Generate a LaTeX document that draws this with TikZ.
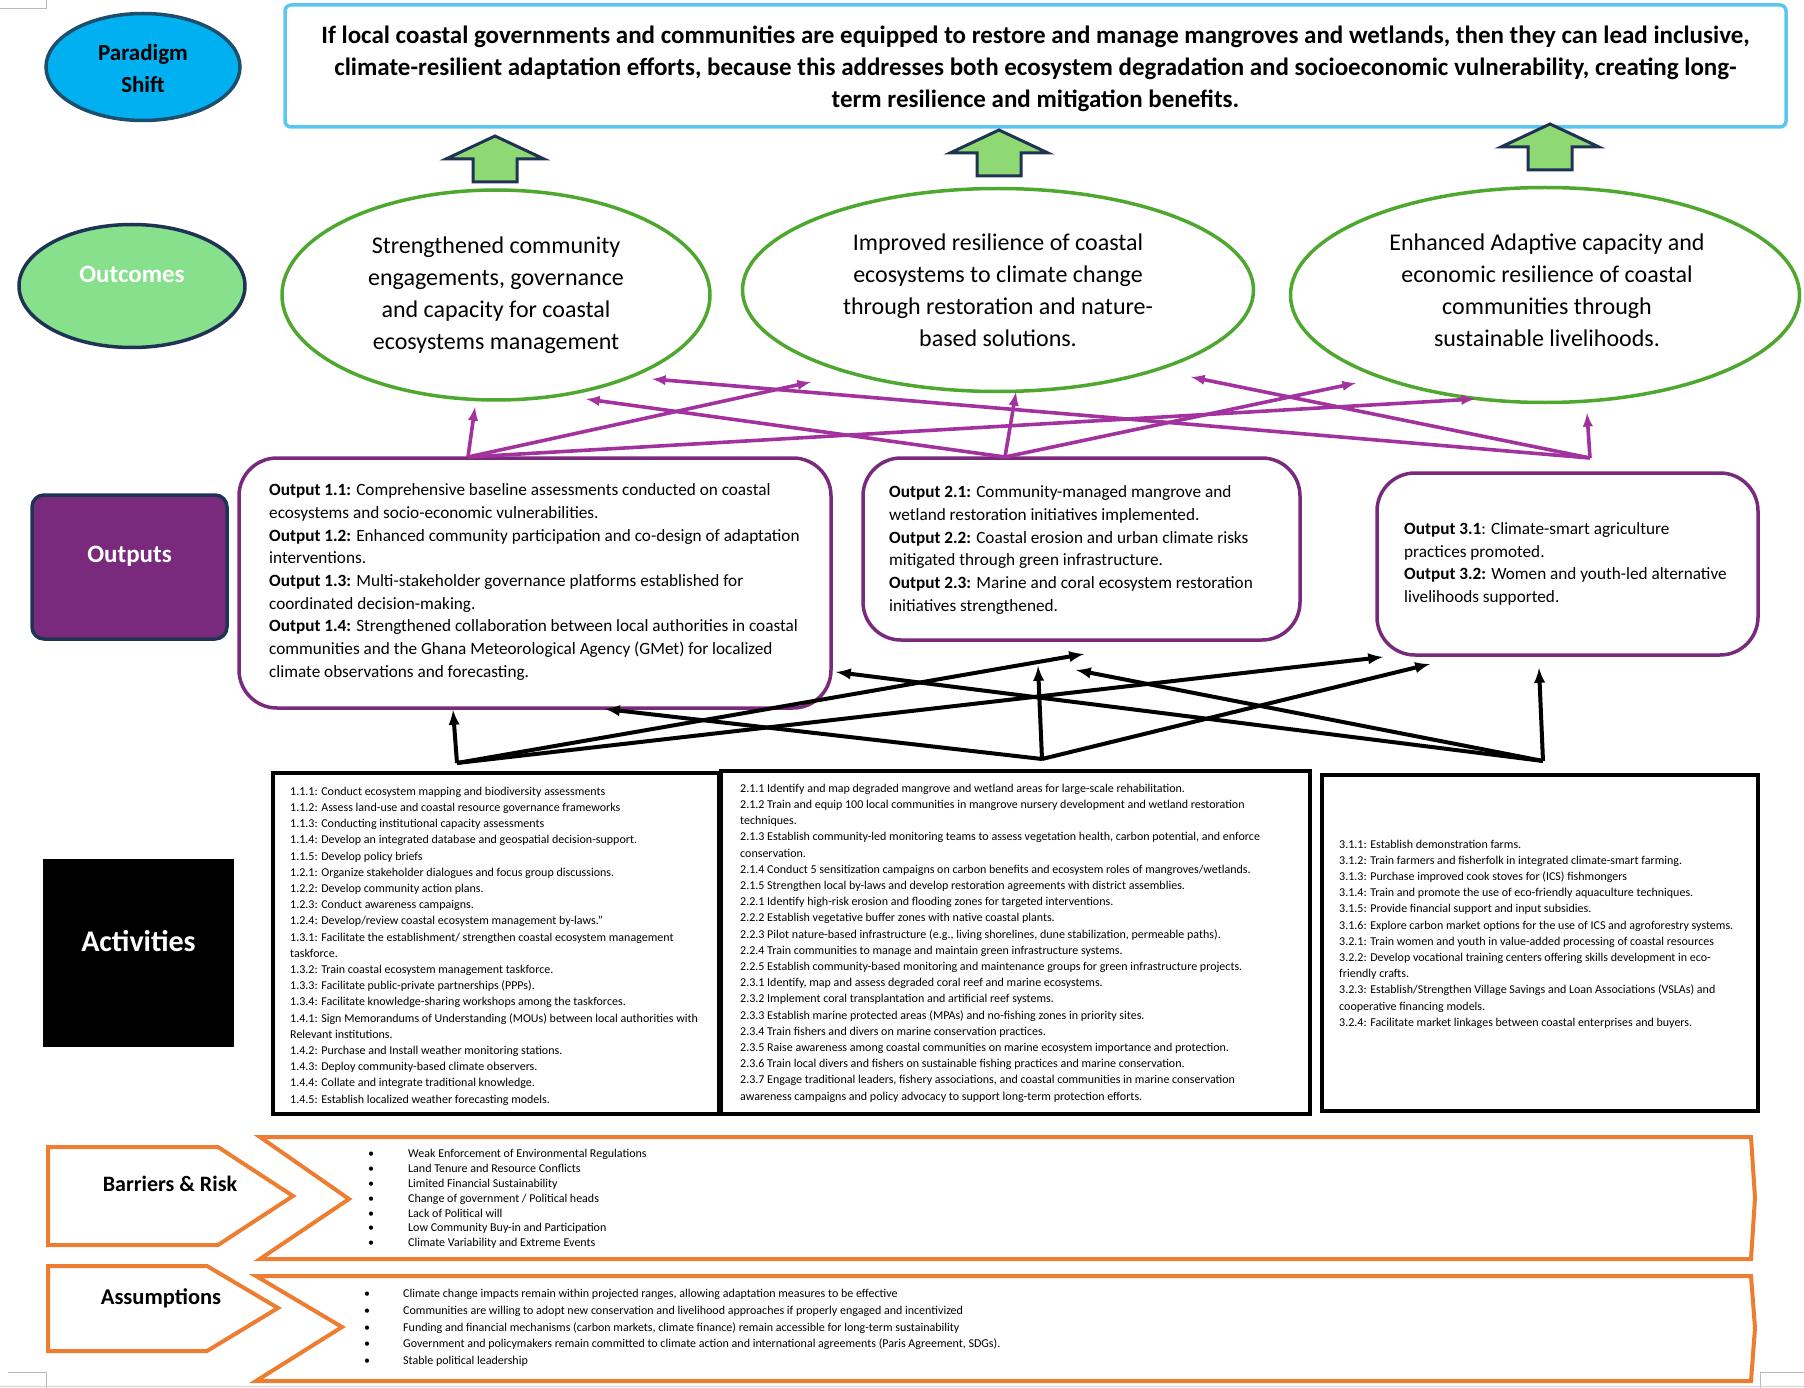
\documentclass[tikz,border=0pt]{standalone}
\usepackage{fontspec}
\setmainfont{Carlito}
\usetikzlibrary{shapes.geometric}

\definecolor{skyfill}{HTML}{00B0F0}
\definecolor{tealline}{HTML}{1D4E6B}
\definecolor{navyline}{HTML}{1F3354}
\definecolor{skyline}{HTML}{5CC6F2}
\definecolor{mint}{HTML}{87E08C}
\definecolor{arrowgreen}{HTML}{8ED973}
\definecolor{leaf}{HTML}{4EA72E}
\definecolor{plum}{HTML}{7A2A7C}
\definecolor{orchid}{HTML}{A2339E}
\definecolor{rust}{HTML}{ED7D31}

\newcommand{\fs}[2]{\fontsize{#1}{#2}\selectfont}
\newcommand{\riskdot}[1]{\makebox[#1][l]{\textbullet}}

\begin{document}
\begin{tikzpicture}[x=1pt,y=-1pt,>=latex,
  outcome/.style={ellipse, draw=leaf, line width=3.5pt, fill=white, inner sep=0pt, align=center, font=\fs{24}{32}},
  outbox/.style={draw=plum, line width=3.5pt, rounded corners=38pt, inner sep=0pt},
  outtext/.style={align=left, anchor=west, inner sep=0pt, font=\fs{17.2}{22.7}},
  actbox/.style={draw=black, line width=4pt, inner sep=0pt},
  acttext/.style={align=left, anchor=west, inner sep=0pt, font=\fs{12}{16.2}},
  purplink/.style={->, orchid, line width=3.6pt},
  blacklink/.style={->, black, line width=4pt},
  chevron/.style={draw=rust, line width=4pt, line join=miter, fill=white}
]
\useasboundingbox (0,0) rectangle (1804,1388);

\draw[gray!55, line width=1pt] (0,9) -- (46,9) -- (46,0);
\draw[gray!55, line width=1pt] (8,1372) -- (46,1372) -- (46,1388);
\draw[gray!55, line width=1pt] (1804,1372) -- (1760,1372) -- (1760,1388);
\draw[gray!35, line width=1pt] (0,1386) -- (1804,1386);

\node[ellipse, draw=tealline, fill=skyfill, line width=3.5pt, minimum width=194pt, minimum height=107pt] (shiftlbl) at (143,67) {};
\node[align=center, inner sep=0pt, font=\bfseries\fs{23}{32}] (shifttxt) at (143,69) {Paradigm\\Shift};
\node[draw=skyline, line width=3.5pt, rounded corners=6pt, minimum width=1501pt, minimum height=122pt] (theory) at (1035.5,66) {};
\node[align=center, inner sep=0pt, font=\bfseries\fs{25}{32}] (theorytxt) at (1035.5,69)
  {If local coastal governments and communities are equipped to restore and manage mangroves and wetlands, then they can lead inclusive,\\
   climate-resilient adaptation efforts, because this addresses both ecosystem degradation and socioeconomic vulnerability, creating long-\\
   term resilience and mitigation benefits.};

\foreach \cx/\ty in {495/136, 999/130, 1550/124}
  \draw[draw=navyline, fill=arrowgreen, line width=3pt, line join=miter]
    (\cx,\ty) -- ++(49,23) -- ++(-27,0) -- ++(0,23) -- ++(-44,0) -- ++(0,-23) -- ++(-27,0) -- cycle;

\node[ellipse, draw=navyline, fill=mint, line width=3.5pt, minimum width=226pt, minimum height=123pt,
  inner sep=0pt, text=white, font=\bfseries\fs{25}{30}] (outclbl) at (132,286) {};
\node[text=white, inner sep=0pt, font=\bfseries\fs{25}{30}] (outcltxt) at (132,274) {Outcomes};
\node[outcome, minimum width=428pt, minimum height=210pt] (oc1) at (496,295)
  {Strengthened community\\engagements, governance\\and capacity for coastal\\ecosystems management};
\node[outcome, minimum width=511pt, minimum height=203pt] (oc2) at (998,290)
  {Improved resilience of coastal\\ecosystems to climate change\\through restoration and nature-\\based solutions.};
\node[outcome, minimum width=509pt, minimum height=215pt] (oc3) at (1545,295) {};
\node[align=center, inner sep=0pt, font=\fs{24}{32}] (oc3txt) at (1547,290)
  {Enhanced Adaptive capacity and\\economic resilience of coastal\\communities through\\sustainable livelihoods.};

\node[draw=navyline, fill=plum, rounded corners=12pt, line width=3.5pt, minimum width=195pt, minimum height=144pt] (outplbl) at (129.5,567) {};
\node[text=white, inner sep=0pt, font=\bfseries\fs{25}{30}] (outptxt) at (129.5,556) {Outputs};
\node[outbox, minimum width=592pt, minimum height=250pt] (op1) at (535,583) {};
\node[outbox, minimum width=437pt, minimum height=182pt] (op2) at (1081.5,549) {};
\node[outbox, minimum width=381pt, minimum height=182pt] (op3) at (1567.5,564) {};
\node[outtext] (op1txt) at (269,582)
  {\textbf{Output 1.1:} Comprehensive baseline assessments conducted on coastal\\
   ecosystems and socio-economic vulnerabilities.\\
   \textbf{Output 1.2:} Enhanced community participation and co-design of adaptation\\
   interventions.\\
   \textbf{Output 1.3:} Multi-stakeholder governance platforms established for\\
   coordinated decision-making.\\
   \textbf{Output 1.4:} Strengthened collaboration between local authorities in coastal\\
   communities and the Ghana Meteorological Agency (GMet) for localized\\
   climate observations and forecasting.};
\node[outtext] (op2txt) at (889,550)
  {\textbf{Output 2.1:} Community-managed mangrove and\\
   wetland restoration initiatives implemented.\\
   \textbf{Output 2.2:} Coastal erosion and urban climate risks\\
   mitigated through green infrastructure.\\
   \textbf{Output 2.3:} Marine and coral ecosystem restoration\\
   initiatives strengthened.};
\node[outtext] (op3txt) at (1404,564)
  {\textbf{Output 3.1}: Climate-smart agriculture\\
   practices promoted.\\
   \textbf{Output 3.2:} Women and youth-led alternative\\
   livelihoods supported.};

\node[fill=black, minimum width=191pt, minimum height=188pt] (actlbl) at (138.5,953) {};
\node[text=white, inner sep=0pt, font=\bfseries\fs{30}{36}] (acttxt) at (138.5,941) {Activities};
\node[actbox, minimum width=446pt, minimum height=341pt] (ac1) at (496,943.5) {};
\node[actbox, minimum width=589pt, minimum height=343pt] (ac2) at (1015.5,942.5) {};
\node[actbox, minimum width=436pt, minimum height=336pt] (ac3) at (1540,943) {};
\node[acttext] (ac1txt) at (290,946)
  {1.1.1: Conduct ecosystem mapping and biodiversity assessments\\
   1.1.2: Assess land-use and coastal resource governance frameworks\\
   1.1.3: Conducting institutional capacity assessments\\
   1.1.4: Develop an integrated database and geospatial decision-support.\\
   1.1.5: Develop policy briefs\\
   1.2.1: Organize stakeholder dialogues and focus group discussions.\\
   1.2.2: Develop community action plans.\\
   1.2.3: Conduct awareness campaigns.\\
   1.2.4: Develop/review coastal ecosystem management by-laws.''\\
   1.3.1: Facilitate the establishment/ strengthen coastal ecosystem management\\
   taskforce.\\
   1.3.2: Train coastal ecosystem management taskforce.\\
   1.3.3: Facilitate public-private partnerships (PPPs).\\
   1.3.4: Facilitate knowledge-sharing workshops among the taskforces.\\
   1.4.1: Sign Memorandums of Understanding (MOUs) between local authorities with\\
   Relevant institutions.\\
   1.4.2: Purchase and Install weather monitoring stations.\\
   1.4.3: Deploy community-based climate observers.\\
   1.4.4: Collate and integrate traditional knowledge.\\
   1.4.5: Establish localized weather forecasting models.};
\node[acttext] (ac2txt) at (740,943)
  {2.1.1 Identify and map degraded mangrove and wetland areas for large-scale rehabilitation.\\
   2.1.2 Train and equip 100 local communities in mangrove nursery development and wetland restoration\\
   techniques.\\
   2.1.3 Establish community-led monitoring teams to assess vegetation health, carbon potential, and enforce\\
   conservation.\\
   2.1.4 Conduct 5 sensitization campaigns on carbon benefits and ecosystem roles of mangroves/wetlands.\\
   2.1.5 Strengthen local by-laws and develop restoration agreements with district assemblies.\\
   2.2.1 Identify high-risk erosion and flooding zones for targeted interventions.\\
   2.2.2 Establish vegetative buffer zones with native coastal plants.\\
   2.2.3 Pilot nature-based infrastructure (e.g., living shorelines, dune stabilization, permeable paths).\\
   2.2.4 Train communities to manage and maintain green infrastructure systems.\\
   2.2.5 Establish community-based monitoring and maintenance groups for green infrastructure projects.\\
   2.3.1 Identify, map and assess degraded coral reef and marine ecosystems.\\
   2.3.2 Implement coral transplantation and artificial reef systems.\\
   2.3.3 Establish marine protected areas (MPAs) and no-fishing zones in priority sites.\\
   2.3.4 Train fishers and divers on marine conservation practices.\\
   2.3.5 Raise awareness among coastal communities on marine ecosystem importance and protection.\\
   2.3.6 Train local divers and fishers on sustainable fishing practices and marine conservation.\\
   2.3.7 Engage traditional leaders, fishery associations, and coastal communities in marine conservation\\
   awareness campaigns and policy advocacy to support long-term protection efforts.};
\node[acttext] (ac3txt) at (1339,934)
  {3.1.1: Establish demonstration farms.\\
   3.1.2: Train farmers and fisherfolk in integrated climate-smart farming.\\
   3.1.3: Purchase improved cook stoves for (ICS) fishmongers\\
   3.1.4: Train and promote the use of eco-friendly aquaculture techniques.\\
   3.1.5: Provide financial support and input subsidies.\\
   3.1.6: Explore carbon market options for the use of ICS and agroforestry systems.\\
   3.2.1: Train women and youth in value-added processing of coastal resources\\
   3.2.2: Develop vocational training centers offering skills development in eco-\\
   friendly crafts.\\
   3.2.3: Establish/Strengthen Village Savings and Loan Associations (VSLAs) and\\
   cooperative financing models.\\
   3.2.4: Facilitate market linkages between coastal enterprises and buyers.};

\foreach \n/\x/\y in {op1top/468/457, op2top/1005/457, op3top/1590/458,
  t11/475/407, t12/811/382, t13/1475/399, t21/586/399, t22/1016/392, t23/1356/383,
  t31/652/379, t32/1191/377, t33/1587/413}
  \coordinate (\n) at (\x,\y);
\foreach \n/\x/\y in {ac1top/457/763, ac2top/1042/759, ac3top/1543/761,
  s11/453/710, s12/1084/654, s13/1383/657, s21/605/709, s22/1038/666, s23/1430/664,
  s31/836/672, s32/1076/670, s33/1539/668}
  \coordinate (\n) at (\x,\y);

\foreach \s/\t in {op1top/t11, op1top/t12, op1top/t13, op2top/t21, op2top/t22, op2top/t23,
  op3top/t31, op3top/t32, op3top/t33}
  \draw[purplink] (\s) -- (\t);
\foreach \s/\t in {ac1top/s11, ac1top/s12, ac1top/s13, ac2top/s21, ac2top/s22, ac2top/s23,
  ac3top/s31, ac3top/s32, ac3top/s33}
  \draw[blacklink] (\s) -- (\t);

\draw[chevron] (48,1147) -- (218,1147) -- (293,1196) -- (218,1245) -- (48,1245) -- cycle;
\draw[chevron] (260,1137) -- (1751,1137) -- (1755,1198) -- (1751,1259) -- (260,1259) -- (349,1199) -- cycle;
\node[font=\bfseries\fs{22}{26}] (risklbl) at (170,1184) {Barriers \& Risk};
\node[align=left, anchor=west, inner sep=0pt, font=\fs{12}{14.8}] (risktxt) at (368,1199)
  {\riskdot{40pt}Weak Enforcement of Environmental Regulations\\
   \riskdot{40pt}Land Tenure and Resource Conflicts\\
   \riskdot{40pt}Limited Financial Sustainability\\
   \riskdot{40pt}Change of government / Political heads\\
   \riskdot{40pt}Lack of Political will\\
   \riskdot{40pt}Low Community Buy-in and Participation\\
   \riskdot{40pt}Climate Variability and Extreme Events};

\draw[chevron] (48,1266) -- (207,1266) -- (278,1308) -- (207,1351) -- (48,1351) -- cycle;
\draw[chevron] (256,1276) -- (1751,1276) -- (1755,1328) -- (1751,1381) -- (256,1381) -- (342,1327) -- cycle;
\node[font=\bfseries\fs{22.5}{26}] (assumlbl) at (161,1298) {Assumptions};
\node[align=left, anchor=west, inner sep=0pt, font=\fs{12}{16.7}] (assumtxt) at (364,1328)
  {\riskdot{39pt}Climate change impacts remain within projected ranges, allowing adaptation measures to be effective\\
   \riskdot{39pt}Communities are willing to adopt new conservation and livelihood approaches if properly engaged and incentivized\\
   \riskdot{39pt}Funding and financial mechanisms (carbon markets, climate finance) remain accessible for long-term sustainability\\
   \riskdot{39pt}Government and policymakers remain committed to climate action and international agreements (Paris Agreement, SDGs).\\
   \riskdot{39pt}Stable political leadership};
\end{tikzpicture}
\end{document}
